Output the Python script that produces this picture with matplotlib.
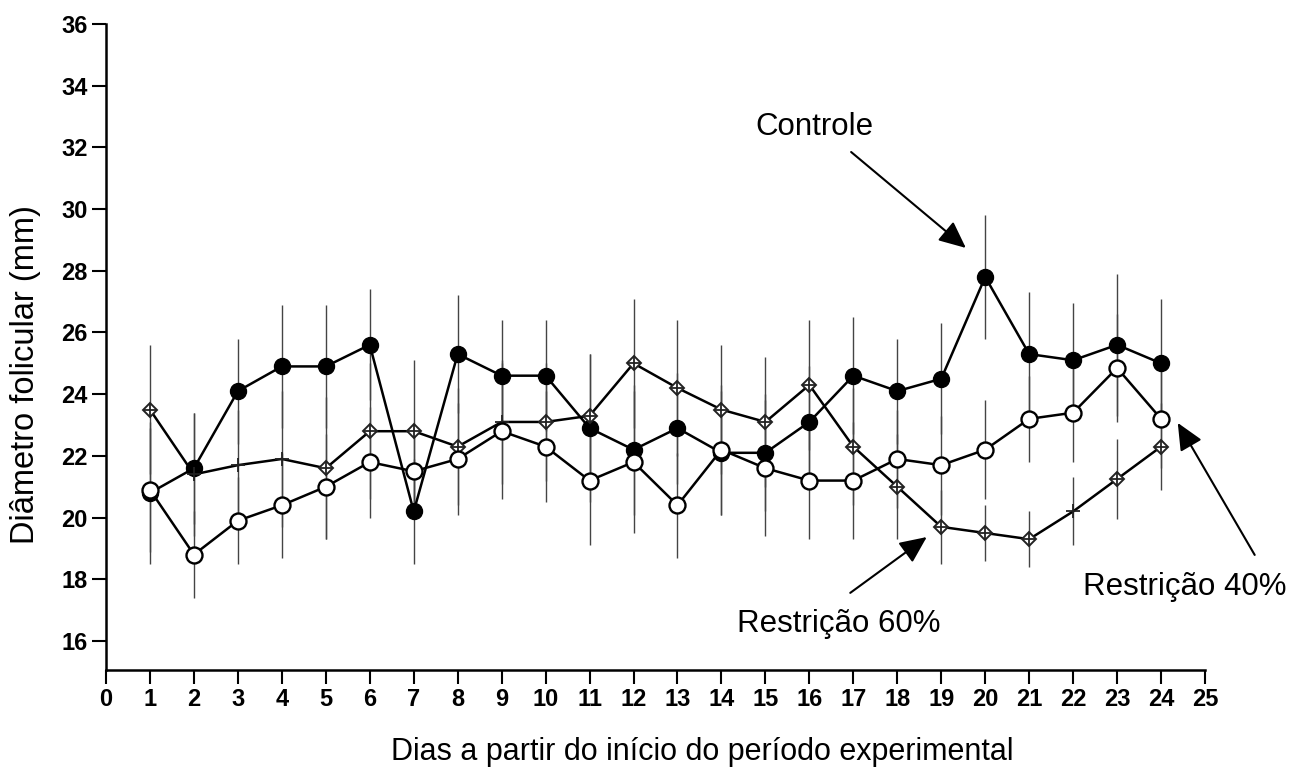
import numpy as np
import matplotlib.pyplot as plt

plt.rcParams['font.family'] = ['Liberation Sans', 'DejaVu Sans']

# ── Data ──────────────────────────────────────────────────────────────────
dias = np.arange(1, 25)

controle = [20.8, 21.6, 24.1, 24.9, 24.9, 25.6, 20.2, 25.3, 24.6, 24.6, 22.9, 22.2,
            22.9, 22.1, 22.1, 23.1, 24.6, 24.1, 24.5, 27.8, 25.3, 25.1, 25.6, 25.0]
controle_ep = [2.3, 1.8, 1.7, 2.0, 2.0, 1.8, 1.7, 1.9, 1.8, 1.8, 2.4, 2.1,
               1.8, 2.0, 1.9, 1.8, 1.9, 1.7, 1.8, 2.0, 2.0, 1.85, 2.3, 2.1]

restr40 = [20.9, 18.8, 19.9, 20.4, 21.0, 21.8, 21.5, 21.9, 22.8, 22.3, 21.2, 21.8,
           20.4, 22.2, 21.6, 21.2, 21.2, 21.9, 21.7, 22.2, 23.2, 23.4, 24.85, 23.2]
restr40_ep = [2.0, 1.4, 1.4, 1.7, 1.7, 1.8, 1.5, 1.8, 2.2, 1.8, 2.1, 2.3,
              1.7, 2.1, 2.2, 1.9, 1.9, 1.6, 1.6, 1.6, 1.4, 1.6, 1.75, 1.6]

restr60 = [23.5, 21.4, 21.7, 21.9, 21.6, 22.8, 22.8, 22.3, 23.1, 23.1, 23.3, 25.0,
           24.2, 23.5, 23.1, 24.3, 22.3, 21.0, 19.7, 19.5, 19.3, 20.2, 21.25, 22.3]
restr60_ep = [2.1, 2.0, 1.8, 2.2, 2.3, 2.2, 2.3, 1.9, 2.0, 1.9, 2.0, 2.1,
              2.2, 2.1, 2.1, 2.1, 1.9, 1.7, 1.2, 0.9, 0.9, 1.1, 1.3, 1.4]
# days where the 60% series shows only a cross (no diamond)
dias_so_cruz = [2, 3, 4, 9, 22]

x_ticks = list(range(0, 26))
y_ticks = list(range(16, 37, 2))

# ── Figure ────────────────────────────────────────────────────────────────
fig = plt.figure(figsize=(12.96, 7.71), dpi=100)
ax = fig.add_axes([0.0818, 0.131, 0.848, 0.8379])

# error bars first, behind the markers
for y, e in [(controle, controle_ep), (restr60, restr60_ep), (restr40, restr40_ep)]:
    ax.errorbar(dias, y, yerr=e, fmt='none', ecolor='#444444',
                elinewidth=1.0, capsize=0, zorder=1)

# Controle: filled circles
ax.plot(dias, controle, color='black', lw=1.8, marker='o', ms=11.5,
        mfc='black', mec='black', zorder=3)

# Restrição 60%: diamonds with a cross
ax.plot(dias, restr60, color='black', lw=1.8, zorder=4)
mask_d = ~np.isin(dias, dias_so_cruz)
ax.plot(dias[mask_d], np.array(restr60)[mask_d], ls='none', marker='D', ms=7,
        mfc='white', mec='#222222', mew=1.4, zorder=5)
ax.plot(dias, restr60, ls='none', marker='+', ms=10, mec='#222222',
        mew=1.3, zorder=6)

# Restrição 40%: open circles
ax.plot(dias, restr40, color='black', lw=1.8, marker='o', ms=11.5,
        mfc='white', mec='black', mew=1.7, zorder=7)

# ── Axes & cosmetics ──────────────────────────────────────────────────────
ax.set_xlim(0, 25)
ax.set_ylim(15.06, 36)
ax.set_xticks(x_ticks)
ax.set_yticks(y_ticks)
ax.spines['top'].set_visible(False)
ax.spines['right'].set_visible(False)
ax.spines['left'].set_linewidth(1.8)
ax.spines['bottom'].set_linewidth(1.8)
ax.tick_params(axis='both', direction='out', length=10, width=1.5,
               labelsize=17, pad=3)
for lab in ax.get_xticklabels() + ax.get_yticklabels():
    lab.set_fontweight('bold')

fig.text(0.542, 0.0246, "Dias a partir do início do período experimental",
         fontsize=22, ha='center', va='center')
fig.text(0.020, 0.5136, "Diâmetro folicular (mm)", fontsize=23.5,
         rotation=90, ha='center', va='center')

# ── Annotations ───────────────────────────────────────────────────────────
arrow = dict(arrowstyle='-|>,head_length=0.55,head_width=0.25', color='black',
             lw=1.5, mutation_scale=30, shrinkA=0, shrinkB=0)
ax.text(14.77, 32.40, "Controle", fontsize=22.5, ha='left', va='baseline')
ax.annotate("", xy=(19.56, 28.74), xytext=(16.95, 31.85),
            arrowprops=arrow, annotation_clip=False)

ax.text(14.36, 16.29, "Restrição 60%", fontsize=22.5, ha='left', va='baseline',
        clip_on=False)
ax.annotate("", xy=(18.67, 19.37), xytext=(16.93, 17.56),
            arrowprops=arrow, annotation_clip=False)

ax.text(22.22, 17.49, "Restrição 40%", fontsize=22.5, ha='left', va='baseline',
        clip_on=False)
ax.annotate("", xy=(24.38, 23.07), xytext=(26.13, 18.79),
            arrowprops=arrow, annotation_clip=False)

fig.savefig("out.png", dpi=100, facecolor='white')
